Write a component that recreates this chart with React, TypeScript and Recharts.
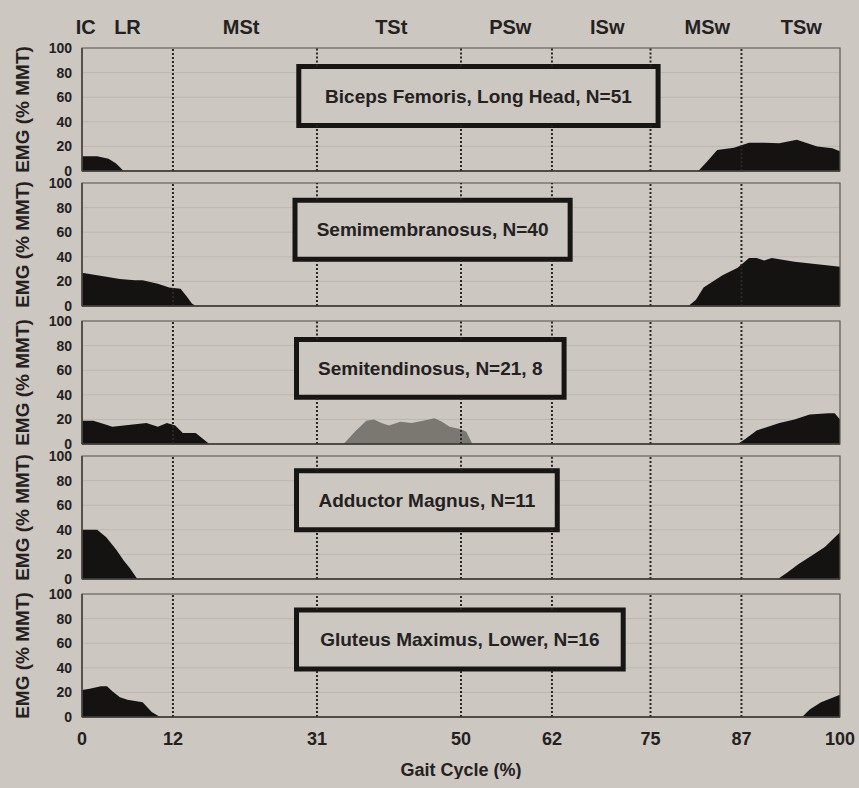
import React from 'react';
import {
  Area,
  AreaChart,
  CartesianGrid,
  ReferenceArea,
  ReferenceLine,
  XAxis,
  YAxis,
} from 'recharts';

// gait phase boundaries (% of cycle) and the phase names shown over the top panel
const phaseLines = [12, 31, 50, 62, 75, 87];
const cycleTicks = [0, 12, 31, 50, 62, 75, 87, 100];
const phaseCenters = [0.5, 6, 21, 40.8, 56.5, 69.3, 82.5, 94.9];
const phaseLabels = ['IC', 'LR', 'MSt', 'TSt', 'PSw', 'ISw', 'MSw', 'TSw'];
const emgTicks = [0, 20, 40, 60, 80, 100];

// EMG envelopes (% gait cycle -> % MMT)
const bicepsPct = [0, 2, 3.5, 4.5, 5.5, 81.3, 82.5, 83.8, 86, 88, 90, 92, 94.3, 95.5, 97, 99, 100];
const bicepsEmg = [12, 12, 10, 6, 0, 0, 8, 17, 19, 23, 23, 22.5, 25.5, 23, 20, 18.5, 16];

const semimembPct = [0, 1, 3, 5, 7, 8, 10, 11.5, 13, 13.8, 14.5, 15, 80, 81, 82, 84.5, 86.5, 88, 89, 90, 91, 94, 97, 100];
const semimembEmg = [27, 26, 24, 22, 21, 21, 18, 15, 14, 8, 2, 0, 0, 5, 15, 25, 31, 39, 39, 37, 39, 36, 34, 32];

const semitendPct = [0, 1.5, 3, 4, 5.5, 7, 8.5, 10, 11.2, 12.3, 13.3, 15, 16.8, 86.5, 87.5, 89, 92, 94, 96, 98.5, 99.3, 100];
const semitendEmg = [19, 19, 16, 14, 15, 16, 17, 14, 17, 15, 9, 9, 0, 0, 4, 11, 17, 20, 24, 25, 25, 20];

// second (N=8) group, drawn in gray
const semitendMidPct = [34.5, 36, 37.5, 38.5, 39.5, 40.5, 42, 43.5, 45, 46.5, 47.5, 48.5, 50, 50.7, 51.5];
const semitendMidEmg = [0, 10, 19, 20, 17, 15, 18, 17, 19, 21, 18, 14, 12, 10, 0];

const adductorPct = [0, 2, 3.2, 4.5, 5.5, 6.3, 7.3, 91.8, 93, 94.5, 96.5, 98, 100];
const adductorEmg = [40, 40, 34, 24, 15, 9, 0, 0, 5, 12, 20, 26, 38];

const gluteusPct = [0, 1, 2.5, 3.3, 4, 5, 6, 8, 9.2, 10.3, 95, 96, 97.5, 100];
const gluteusEmg = [22, 23, 25, 25, 21, 16, 14, 12, 4, 0, 0, 6, 12, 18];

const muscleNames = [
  'Biceps Femoris, Long Head, N=51',
  'Semimembranosus, N=40',
  'Semitendinosus, N=21, 8',
  'Adductor Magnus, N=11',
  'Gluteus Maximus, Lower, N=16',
];

// title box extents in data units: [x1, x2, y1, y2]
const titleBoxes = [
  [28.6, 76.0, 37, 85],
  [28.1, 64.4, 38, 86],
  [28.3, 63.6, 38, 85],
  [28.3, 62.7, 40, 88],
  [28.3, 71.4, 39, 87],
];

const BG = '#ccc7c1';
const INK = '#24211f';
const FONT = '"Liberation Sans", Arial, sans-serif';

type Series = { key: string; pct: number[]; emg: number[]; color: string };

const panels: Series[][] = [
  [{ key: 'a', pct: bicepsPct, emg: bicepsEmg, color: '#151312' }],
  [{ key: 'a', pct: semimembPct, emg: semimembEmg, color: '#151312' }],
  [
    { key: 'a', pct: semitendPct, emg: semitendEmg, color: '#151312' },
    { key: 'b', pct: semitendMidPct, emg: semitendMidEmg, color: '#7b7773' },
  ],
  [{ key: 'a', pct: adductorPct, emg: adductorEmg, color: '#151312' }],
  [{ key: 'a', pct: gluteusPct, emg: gluteusEmg, color: '#151312' }],
];

const plotTops = [48, 183, 321, 456, 594];
const PLOT_H = 123;

function buildRows(series: Series[]) {
  const rows: Record<string, number>[] = [];
  series.forEach((s) => s.pct.forEach((p, i) => rows.push({ x: p, [s.key]: s.emg[i] })));
  return rows.sort((a, b) => a.x - b.x);
}

// dotted phase line, broken where the title box sits on top of it
function phaseSegments(p: number, box: number[]) {
  const [x1, x2, y1, y2] = box;
  if (p < x1 || p > x2) return [[0, 100]];
  return [
    [0, y1],
    [y2, 100],
  ];
}

function Panel({ idx }: { idx: number }) {
  const first = idx === 0;
  const last = idx === panels.length - 1;
  const series = panels[idx];
  const rows = buildRows(series);
  const box = titleBoxes[idx];
  const [bx1, bx2, by1, by2] = box;

  const marginTop = 9;
  const marginBottom = last ? 0 : 9;
  const topAxisH = first ? 40 : 0;
  const bottomAxisH = last ? 62 : 0;
  const height = marginTop + topAxisH + PLOT_H + bottomAxisH + marginBottom;
  const top = plotTops[idx] - marginTop - topAxisH;

  return (
    <div style={{ position: 'absolute', left: 0, top }}>
      <AreaChart
        width={859}
        height={height}
        data={rows}
        margin={{ top: marginTop, right: 19, bottom: marginBottom, left: 0 }}
      >
        <CartesianGrid vertical={false} stroke="#bcb7b0" strokeWidth={1} />
        {first ? (
          <XAxis
            type="number"
            dataKey="x"
            domain={[0, 100]}
            orientation="top"
            height={topAxisH}
            ticks={phaseCenters}
            interval={0}
            tickFormatter={(_v: number, i: number) => phaseLabels[i]}
            tick={{ fontSize: 20, fontWeight: 700, fill: INK, fontFamily: FONT }}
            tickMargin={8}
            axisLine={false}
            tickLine={false}
          />
        ) : last ? (
          <XAxis
            type="number"
            dataKey="x"
            domain={[0, 100]}
            height={bottomAxisH}
            ticks={cycleTicks}
            interval={0}
            tick={{ fontSize: 18, fontWeight: 700, fill: INK, fontFamily: FONT }}
            tickMargin={9}
            axisLine={false}
            tickLine={false}
            label={{
              value: 'Gait Cycle (%)',
              position: 'insideBottom',
              offset: 3,
              fill: INK,
              fontSize: 18,
              fontWeight: 700,
              fontFamily: FONT,
            }}
          />
        ) : (
          <XAxis type="number" dataKey="x" domain={[0, 100]} hide />
        )}
        <YAxis
          width={82}
          domain={[0, 100]}
          ticks={emgTicks}
          interval={0}
          tick={{ fontSize: 14, fontWeight: 700, fill: INK, fontFamily: FONT }}
          tickMargin={4}
          tickLine={false}
          axisLine={{ stroke: '#45413d', strokeWidth: 1.5 }}
          label={{
            value: 'EMG (% MMT)',
            angle: -90,
            position: 'insideLeft',
            offset: 22,
            fill: INK,
            fontSize: 19,
            fontWeight: 700,
            fontFamily: FONT,
            style: { textAnchor: 'middle' },
          }}
        />
        {series.map((s) => (
          <Area
            key={s.key}
            type="linear"
            dataKey={s.key}
            stroke="none"
            fill={s.color}
            fillOpacity={1}
            connectNulls
            dot={false}
            activeDot={false}
            isAnimationActive={false}
          />
        ))}
        <ReferenceArea x1={0} x2={100} y1={0} y2={100} fill="none" stroke="#5c5853" strokeWidth={1.2} />
        <ReferenceArea
          x1={bx1}
          x2={bx2}
          y1={by1}
          y2={by2}
          fill={BG}
          fillOpacity={1}
          stroke="#181615"
          strokeWidth={5}
          label={{
            value: muscleNames[idx],
            position: 'center',
            fill: INK,
            fontSize: 19,
            fontWeight: 700,
            fontFamily: FONT,
          }}
        />
        {phaseLines.flatMap((p) =>
          phaseSegments(p, box).map(([ya, yb]) => (
            <ReferenceLine
              key={`${p}-${ya}`}
              segment={[
                { x: p, y: ya },
                { x: p, y: yb },
              ]}
              stroke="#2a2725"
              strokeWidth={2}
              strokeDasharray="2 2"
            />
          )),
        )}
        <ReferenceLine y={0} stroke="#3a3734" strokeWidth={1.5} />
      </AreaChart>
    </div>
  );
}

export default function App() {
  return (
    <div
      style={{
        position: 'absolute',
        left: 0,
        top: 0,
        width: 859,
        height: 788,
        background: BG,
        fontFamily: FONT,
        overflow: 'hidden',
      }}
    >
      {panels.map((_, i) => (
        <Panel key={i} idx={i} />
      ))}
    </div>
  );
}
